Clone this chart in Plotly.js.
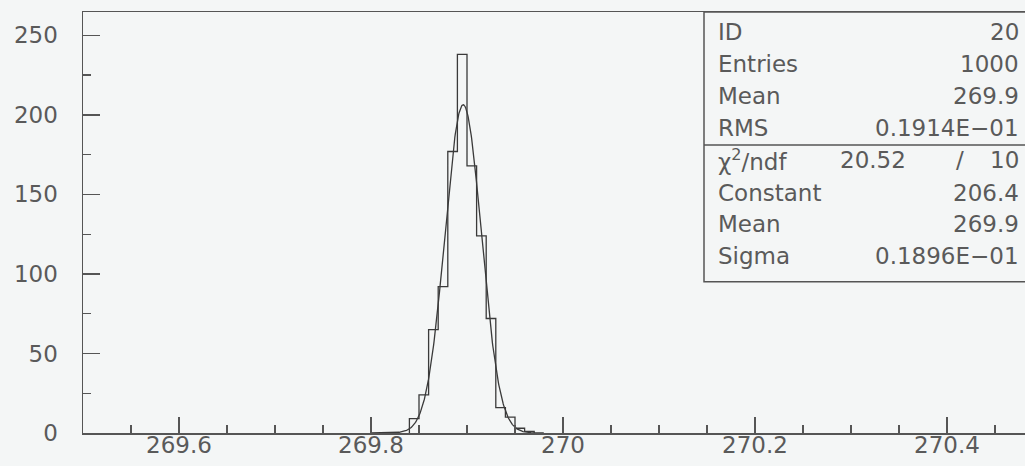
<!DOCTYPE html>
<html>
<head>
<meta charset="utf-8">
<script src="https://cdn.plot.ly/plotly-3.0.1.min.js"></script>
<style>
html, body { margin: 0; padding: 0; overflow: hidden; background: #f4f6f6; }
#chart { width: 1060px; height: 466px; }
</style>
</head>
<body>
<div id="chart"></div>
<script>
// ---- data ----
var binLeftEdges = [269.84, 269.85, 269.86, 269.87, 269.88, 269.89, 269.90, 269.91, 269.92, 269.93, 269.94, 269.95, 269.96];
var binCounts    = [9, 24, 65, 92, 177, 238, 168, 124, 72, 16, 10, 3, 1];
var binWidth = 0.01;

var fitConstant = 206.4;
var fitMean = 269.896;
var fitSigma = 0.01896;

var xTickVals = [269.6, 269.8, 270, 270.2, 270.4];
var xTickText = ["269.6", "269.8", "270", "270.2", "270.4"];
var yTickVals = [0, 50, 100, 150, 200, 250];
var yTickText = ["0", "50", "100", "150", "200", "250"];

var statLabels = ["ID", "Entries", "Mean", "RMS", "χ<sup>2</sup>/ndf", "Constant", "Mean", "Sigma"];
var statValues = ["20", "1000", "269.9", "0.1914E\u221201", "10", "206.4", "269.9", "0.1896E\u221201"];
var chi2Value = "20.52";

// ---- histogram outline (steps) ----
var hx = [binLeftEdges[0]];
var hy = [0];
for (var i = 0; i < binLeftEdges.length; i++) { hx.push(binLeftEdges[i]); hy.push(binCounts[i]); }
hx.push(binLeftEdges[binLeftEdges.length - 1] + binWidth); hy.push(0);

// ---- gaussian fit curve from fit parameters ----
var fx = [], fy = [];
for (var k = 0; k <= 400; k++) {
  var xv = 269.80 + k * (0.18 / 400);
  fx.push(xv);
  fy.push(fitConstant * Math.exp(-0.5 * Math.pow((xv - fitMean) / fitSigma, 2)));
}

var lineCol = '#3a3a3a';
var axCol = '#555555';
var txtCol = '#5a5a5a';
var fontFam = 'DejaVu Sans, sans-serif';

var traces = [
  { x: fx, y: fy, type: 'scatter', mode: 'lines', line: { color: lineCol, width: 1.3 }, hoverinfo: 'skip' },
  { x: hx, y: hy, type: 'scatter', mode: 'lines', line: { color: lineCol, width: 1.3, shape: 'hv' }, hoverinfo: 'skip' }
];

// pixel -> paper helpers
var L = 83, T = 12, PW = 960, PH = 421;
function px(x) { return (x - L) / PW; }
function py(y) { return (T + PH - y) / PH; }

var rowY = [31.7, 63.7, 95.3, 127, 160, 192, 223.7, 255.3];
var ann = [];
for (var r = 0; r < statLabels.length; r++) {
  ann.push({ xref: 'paper', yref: 'paper', x: px(716), y: py(rowY[r] + 0.5), xanchor: 'left', yanchor: 'middle',
    text: statLabels[r], showarrow: false, font: { family: fontFam, size: 23, color: txtCol } });
  ann.push({ xref: 'paper', yref: 'paper', x: px(1021), y: py(rowY[r] + 0.5), xanchor: 'right', yanchor: 'middle',
    text: statValues[r], showarrow: false, font: { family: fontFam, size: 23, color: txtCol } });
}
ann.push({ xref: 'paper', yref: 'paper', x: px(873), y: py(rowY[4] + 0.5), xanchor: 'center', yanchor: 'middle',
  text: chi2Value, showarrow: false, font: { family: fontFam, size: 23, color: txtCol } });
ann.push({ xref: 'paper', yref: 'paper', x: px(960), y: py(rowY[4] + 0.5), xanchor: 'center', yanchor: 'middle',
  text: '/', showarrow: false, font: { family: fontFam, size: 23, color: txtCol } });

var layout = {
  width: 1060, height: 466,
  margin: { l: L, r: 1060 - L - PW, t: T, b: 466 - T - PH, pad: 0 },
  paper_bgcolor: '#f4f6f6', plot_bgcolor: '#f4f6f6',
  showlegend: false,
  font: { family: fontFam, color: txtCol },
  xaxis: {
    range: [269.5, 270.5], showgrid: false, zeroline: false,
    showline: true, mirror: true, linecolor: axCol, linewidth: 1.5,
    tickmode: 'array', tickvals: xTickVals, ticktext: xTickText,
    ticks: 'inside', ticklen: 16, tickwidth: 1.3, tickcolor: axCol,
    minor: { tickmode: 'linear', tick0: 269.5, dtick: 0.05, ticks: 'inside', ticklen: 8, tickwidth: 1.3, tickcolor: axCol, showgrid: false },
    tickfont: { family: fontFam, size: 23, color: txtCol },
    ticklabelstandoff: -9
  },
  yaxis: {
    range: [0, 264.7], showgrid: false, zeroline: false,
    showline: true, mirror: true, linecolor: axCol, linewidth: 1.5,
    tickmode: 'array', tickvals: yTickVals, ticktext: yTickText,
    ticks: 'inside', ticklen: 17, tickwidth: 1.3, tickcolor: axCol,
    minor: { tickmode: 'linear', tick0: 0, dtick: 25, ticks: 'inside', ticklen: 8, tickwidth: 1.3, tickcolor: axCol, showgrid: false },
    tickfont: { family: fontFam, size: 23, color: txtCol },
    ticklabelstandoff: 19
  },
  shapes: [
    { type: 'rect', xref: 'paper', yref: 'paper', x0: px(704), x1: 1, y0: py(281.7), y1: 1,
      line: { color: axCol, width: 1.5 }, fillcolor: 'rgba(0,0,0,0)' },
    { type: 'line', xref: 'paper', yref: 'paper', x0: px(704), x1: 1, y0: py(145), y1: py(145),
      line: { color: axCol, width: 1.5 } }
  ],
  annotations: ann
};

Plotly.newPlot('chart', traces, layout, { displayModeBar: false, staticPlot: true });
</script>
</body>
</html>
